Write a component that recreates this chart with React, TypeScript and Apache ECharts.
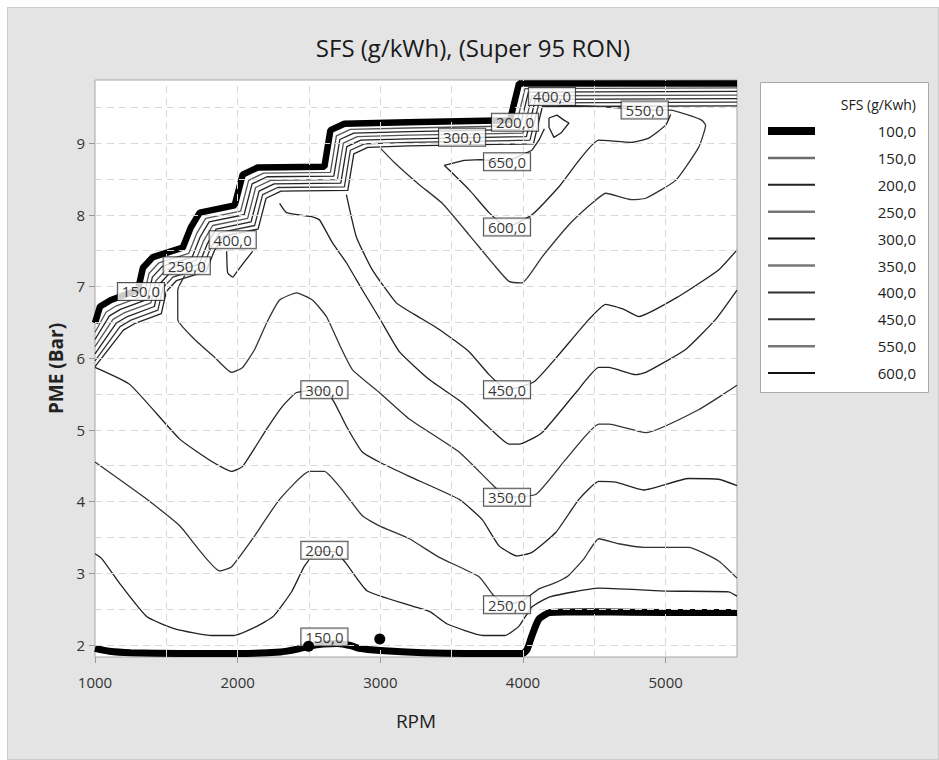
import React, { useEffect, useRef } from "react";
import * as echarts from "echarts";

type P = [number, number];

const xTickValues = [1000, 2000, 3000, 4000, 5000];
const yTickValues = [2, 3, 4, 5, 6, 7, 8, 9];
const xGridValues = [1500, 2000, 2500, 3000, 3500, 4000, 4500, 5000];
const yGridValues = [2, 2.5, 3, 3.5, 4, 4.5, 5, 5.5, 6, 6.5, 7, 7.5, 8, 8.5, 9, 9.5];

const legendLevels = ["100,0", "150,0", "200,0", "250,0", "300,0", "350,0", "400,0", "450,0", "550,0", "600,0"];

// contour 100 (thick)
const sfs100Bottom: P[] = [[1000, 1.95], [1100, 1.91], [1250, 1.89], [1600, 1.88], [2000, 1.88], [2300, 1.9], [2420, 1.94], [2500, 1.98], [2600, 2.01], [2700, 2.02], [2790, 1.99], [2850, 1.95], [3000, 1.92], [3300, 1.89], [3600, 1.88], [4000, 1.88], [4030, 1.94], [4063, 2.13], [4112, 2.36], [4189, 2.45], [4500, 2.46], [5000, 2.45], [5500, 2.45]];
const sfs100Top: P[] = [[1000, 6.49], [1035, 6.72], [1112, 6.81], [1301, 6.95], [1336, 7.26], [1406, 7.41], [1615, 7.54], [1671, 7.82], [1734, 8.03], [1979, 8.13], [2035, 8.56], [2140, 8.66], [2608, 8.67], [2650, 9.18], [2748, 9.27], [3189, 9.29], [3909, 9.32], [3972, 9.83], [5500, 9.83]];

// bundle of contours under the upper limit (150 ... 450)
const bundle150: P[] = [[1000, 6.36], [1077, 6.64], [1150, 6.73], [1343, 6.87], [1378, 7.18], [1448, 7.33], [1657, 7.46], [1713, 7.74], [1776, 7.95], [2021, 8.05], [2077, 8.48], [2182, 8.58], [2650, 8.59], [2692, 9.1], [2790, 9.19], [3200, 9.21], [3951, 9.24], [4014, 9.76], [5500, 9.77]];
const bundle200: P[] = [[1000, 6.26], [1101, 6.59], [1178, 6.68], [1367, 6.82], [1402, 7.13], [1472, 7.28], [1681, 7.41], [1737, 7.69], [1800, 7.9], [2045, 8.0], [2101, 8.43], [2206, 8.53], [2674, 8.54], [2716, 9.05], [2814, 9.14], [3200, 9.16], [3975, 9.19], [4038, 9.71], [5500, 9.72]];
const bundle250: P[] = [[1000, 6.16], [1126, 6.54], [1203, 6.63], [1392, 6.77], [1427, 7.08], [1497, 7.23], [1706, 7.36], [1762, 7.64], [1825, 7.85], [2070, 7.95], [2126, 8.38], [2231, 8.48], [2699, 8.49], [2741, 9.0], [2839, 9.09], [3200, 9.11], [4000, 9.14], [4063, 9.66], [5500, 9.67]];
const bundle300: P[] = [[1000, 6.06], [1150, 6.49], [1227, 6.58], [1416, 6.72], [1451, 7.03], [1521, 7.18], [1730, 7.31], [1786, 7.59], [1849, 7.8], [2094, 7.9], [2150, 8.33], [2255, 8.43], [2723, 8.44], [2765, 8.95], [2863, 9.04], [3200, 9.06], [4024, 9.09], [4087, 9.61], [5500, 9.62]];
const bundle400: P[] = [[1000, 5.96], [1175, 6.44], [1252, 6.53], [1441, 6.67], [1476, 6.98], [1546, 7.13], [1755, 7.26], [1811, 7.54], [1874, 7.75], [2119, 7.85], [2175, 8.28], [2280, 8.38], [2748, 8.39], [2790, 8.9], [2888, 8.99], [3200, 9.01], [4049, 9.04], [4112, 9.56], [5500, 9.57]];
const bundle450: P[] = [[1000, 5.88], [1199, 6.39], [1276, 6.48], [1465, 6.62], [1500, 6.93], [1570, 7.08], [1779, 7.21], [1835, 7.49], [1898, 7.7], [2143, 7.8], [2199, 8.23], [2304, 8.33], [2772, 8.34], [2814, 8.85], [2912, 8.94], [3200, 8.96], [4073, 8.99], [4136, 9.51], [5500, 9.52]];

const sfs200: P[] = [[1000, 3.27], [1049, 3.2], [1175, 2.85], [1364, 2.39], [1566, 2.22], [1818, 2.13], [1972, 2.13], [2126, 2.25], [2252, 2.4], [2378, 2.74], [2469, 3.1], [2560, 3.3], [2680, 3.3], [2755, 3.15], [2909, 2.75], [3224, 2.54], [3350, 2.46], [3469, 2.29], [3720, 2.13], [3874, 2.13], [3972, 2.26], [4063, 2.53], [4189, 2.67], [4531, 2.79], [5000, 2.75], [5441, 2.74], [5500, 2.68]];
const sfs250: P[] = [[1000, 4.55], [1364, 4.03], [1594, 3.66], [1874, 3.03], [1958, 3.09], [2105, 3.48], [2294, 4.03], [2503, 4.42], [2608, 4.42], [2713, 4.21], [2874, 3.8], [2993, 3.66], [3203, 3.48], [3413, 3.22], [3692, 2.95], [3797, 2.68], [3888, 2.56], [4000, 2.62], [4112, 2.78], [4220, 2.86], [4315, 2.96], [4427, 3.2], [4531, 3.48], [4671, 3.41], [4846, 3.36], [5161, 3.36], [5371, 3.17], [5500, 2.93]];
const sfs300: P[] = [[1000, 5.87], [1245, 5.63], [1594, 4.87], [1825, 4.55], [1958, 4.42], [2035, 4.49], [2203, 5.01], [2315, 5.33], [2413, 5.52], [2608, 5.56], [2678, 5.38], [2762, 5.05], [2874, 4.69], [2993, 4.55], [3203, 4.35], [3552, 4.03], [3713, 3.75], [3832, 3.38], [3958, 3.24], [4063, 3.29], [4231, 3.57], [4392, 4.03], [4531, 4.28], [4650, 4.27], [4846, 4.16], [5161, 4.32], [5371, 4.31], [5500, 4.22]];
const sfs350: P[] = [[1629, 7.15], [1580, 6.95], [1580, 6.54], [1699, 6.26], [1839, 6.01], [1958, 5.8], [2035, 5.87], [2119, 6.12], [2203, 6.49], [2294, 6.81], [2413, 6.91], [2524, 6.81], [2622, 6.58], [2713, 6.19], [2804, 5.84], [2993, 5.52], [3203, 5.15], [3552, 4.69], [3783, 4.24], [3888, 4.06], [4091, 4.1], [4301, 4.59], [4531, 5.08], [4601, 5.08], [4860, 4.96], [5231, 5.28], [5500, 5.62]];
const sfs400: P[] = [[2294, 8.16], [2343, 8.03], [2524, 7.97], [2573, 7.93], [2664, 7.61], [2762, 7.33], [2874, 6.95], [2993, 6.56], [3133, 6.09], [3343, 5.7], [3573, 5.38], [3762, 5.03], [3902, 4.8], [3972, 4.8], [4133, 4.96], [4371, 5.52], [4531, 5.87], [4601, 5.87], [4790, 5.77], [4860, 5.8], [5140, 6.12], [5350, 6.54], [5500, 6.95]];
const sfs450: P[] = [[2762, 8.28], [2832, 7.69], [2944, 7.23], [3112, 6.77], [3238, 6.61], [3413, 6.4], [3622, 6.09], [3762, 5.77], [3888, 5.56], [4077, 5.67], [4252, 6.05], [4462, 6.54], [4580, 6.75], [4706, 6.68], [4811, 6.58], [5091, 6.86], [5371, 7.23], [5500, 7.51]];
const sfs550: P[] = [[3000, 8.93], [3098, 8.73], [3273, 8.42], [3434, 8.16], [3622, 7.72], [3797, 7.3], [3902, 7.07], [3993, 7.05], [4133, 7.41], [4322, 7.86], [4483, 8.16], [4580, 8.3], [4762, 8.21], [4860, 8.23], [5070, 8.48], [5231, 8.94], [5280, 9.25], [5252, 9.32], [5161, 9.39], [5035, 9.46], [4853, 9.46], [4671, 9.49], [4450, 9.52], [4250, 9.53]];
const sfs600: P[] = [[3448, 8.69], [3622, 8.35], [3762, 8.03], [3888, 7.83], [4063, 8.0], [4252, 8.39], [4531, 9.04], [4762, 9.01], [4881, 9.07], [5000, 9.25], [5035, 9.4]];
const sfs650: P[] = [[3448, 8.69], [3587, 8.76], [3700, 8.77], [3888, 8.74], [4063, 8.9], [4112, 9.04], [4150, 9.2]];
const loopRight: P[] = [[4182, 9.35], [4238, 9.39], [4287, 9.32], [4322, 9.28], [4266, 9.14], [4217, 9.08], [4182, 9.22], [4182, 9.35]];
const loopLeft: P[] = [[1923, 7.49], [1930, 7.19], [1965, 7.13], [2000, 7.22], [2105, 7.49]];

// contour labels
const labelNames = ["150,0", "200,0", "250,0", "300,0", "350,0", "450,0", "600,0", "650,0", "300,0", "200,0", "400,0", "550,0", "400,0", "250,0", "150,0"];
const labelX = [2608, 2608, 3888, 2608, 3888, 3888, 3888, 3888, 3573, 3944, 4203, 4853, 1965, 1643, 1322];
const labelY = [2.11, 3.32, 2.56, 5.56, 4.06, 5.56, 7.83, 8.74, 9.08, 9.29, 9.65, 9.46, 7.65, 7.29, 6.93];

// data points (dots)
const dotX = [2497, 2996];
const dotY = [1.98, 2.08];

const FONT = "'Open Sans', 'Noto Sans', sans-serif";

export default function App() {
  const ref = useRef<HTMLDivElement>(null);

  useEffect(() => {
    if (!ref.current) return;
    const chart = echarts.init(ref.current, undefined, { renderer: "svg" });

    const thin = (data: P[], color: string, width = 1.3, smooth: number | boolean = 0.15) => ({
      type: "line",
      data,
      showSymbol: false,
      symbol: "none",
      smooth,
      silent: true,
      z: 3,
      lineStyle: { color, width },
    });

    const series: any[] = [
      {
        type: "line",
        data: [],
        silent: true,
        z: 1,
        markLine: {
          silent: true,
          symbol: ["none", "none"],
          label: { show: false },
          lineStyle: { type: [7, 5], color: "#d9d9d9", width: 1 },
          data: [
            ...xGridValues.map((v) => ({ xAxis: v })),
            ...yGridValues.map((v) => ({ yAxis: v })),
          ],
        },
      },
      thin(sfs100Bottom, "#000", 7, 0.2),
      thin(sfs100Top, "#000", 6.5, false),
      thin(bundle150, "#555", 1.3, false),
      thin(bundle200, "#222", 1.3, false),
      thin(bundle250, "#555", 1.3, false),
      thin(bundle300, "#222", 1.3, false),
      thin(bundle400, "#333", 1.3, false),
      thin(bundle450, "#222", 1.3, false),
      thin(sfs200, "#222"),
      thin(sfs250, "#333"),
      thin(sfs300, "#222"),
      thin(sfs350, "#333"),
      thin(sfs400, "#222"),
      thin(sfs450, "#222"),
      thin(sfs550, "#333"),
      thin(sfs600, "#222"),
      thin(sfs650, "#222", 1.3, false),
      thin(loopRight, "#222", 1.3, false),
      thin(loopLeft, "#222"),
      {
        type: "scatter",
        data: labelNames.map((n, i) => ({ name: n, value: [labelX[i], labelY[i]] })),
        symbolSize: 0,
        silent: true,
        z: 10,
        label: {
          show: true,
          position: "inside",
          formatter: (p: any) => p.name,
          backgroundColor: "#fff",
          borderColor: "#222",
          borderWidth: 1,
          padding: [1, 4],
          fontSize: 15,
          fontFamily: FONT,
          color: "#000",
        },
      },
      {
        type: "scatter",
        data: dotX.map((x, i) => [x, dotY[i]]),
        symbolSize: 11,
        itemStyle: { color: "#000", opacity: 1 },
        silent: true,
        z: 11,
      },
    ];

    // legend built from the legend levels
    const legendLeft = 752;
    const legendTop = 74;
    const rowTop = 123;
    const rowStep = 26.9;
    const legendStyles = [
      { color: "#000", width: 8 },
      { color: "#6d6d6d", width: 2.5 },
      { color: "#222", width: 2 },
      { color: "#777", width: 2.5 },
      { color: "#111", width: 2 },
      { color: "#777", width: 2.5 },
      { color: "#333", width: 2 },
      { color: "#333", width: 2 },
      { color: "#777", width: 2.5 },
      { color: "#111", width: 2 },
    ];
    const graphic: any[] = [
      {
        type: "rect",
        left: legendLeft,
        top: legendTop,
        shape: { width: 168, height: 310 },
        style: { fill: "#fff", stroke: "#a8a8a8", lineWidth: 1 },
      },
      {
        type: "text",
        x: 908,
        y: 96,
        style: { text: "SFS (g/Kwh)", fill: "#222", font: `14px ${FONT}`, textAlign: "right", textVerticalAlign: "middle" },
      },
    ];
    legendLevels.forEach((lv, i) => {
      const y = rowTop + i * rowStep;
      graphic.push({
        type: "line",
        shape: { x1: 760, y1: y, x2: 807, y2: y },
        style: { stroke: legendStyles[i].color, lineWidth: legendStyles[i].width },
      });
      graphic.push({
        type: "text",
        x: 908,
        y,
        style: { text: lv, fill: "#222", font: `15px ${FONT}`, textAlign: "right", textVerticalAlign: "middle" },
      });
    });

    chart.setOption({
      animation: false,
      backgroundColor: "transparent",
      title: {
        text: "SFS (g/kWh), (Super 95 RON)",
        left: "center",
        top: 22,
        textStyle: { fontSize: 24, fontWeight: "normal", color: "#1a1a1a", fontFamily: FONT },
      },
      grid: {
        left: 87,
        top: 72,
        right: 201,
        bottom: 102,
        show: true,
        backgroundColor: "#fff",
        borderColor: "#a6a6a6",
        borderWidth: 1,
      },
      xAxis: {
        type: "value",
        min: 1000,
        max: 5500,
        axisLine: { show: false },
        splitLine: { show: false },
        axisTick: { show: true, customValues: xTickValues, length: 6, lineStyle: { color: "#999" } },
        axisLabel: {
          customValues: xTickValues,
          formatter: (v: number) => String(v),
          fontSize: 15,
          color: "#333",
          margin: 17,
          fontFamily: FONT,
        },
        name: "RPM",
        nameLocation: "middle",
        nameGap: 54,
        nameTextStyle: { fontSize: 19, color: "#222", fontFamily: FONT },
      },
      yAxis: {
        type: "value",
        min: 1.83,
        max: 9.88,
        axisLine: { show: false },
        splitLine: { show: false },
        axisTick: { show: true, customValues: yTickValues, length: 6, lineStyle: { color: "#999" } },
        axisLabel: {
          customValues: yTickValues,
          formatter: (v: number) => String(v),
          fontSize: 15,
          color: "#333",
          margin: 10,
          fontFamily: FONT,
        },
        name: "PME (Bar)",
        nameLocation: "middle",
        nameGap: 28,
        nameRotate: 90,
        nameTextStyle: { fontSize: 19, color: "#222", fontWeight: "bold", fontFamily: FONT },
      },
      graphic,
      series,
    });

    return () => chart.dispose();
  }, []);

  return (
    <div
      style={{
        position: "absolute",
        left: 7,
        top: 7,
        width: 932,
        height: 753,
        boxSizing: "border-box",
        background: "#e4e4e4",
        border: "1px solid #cdcdcd",
      }}
    >
      <div ref={ref} style={{ position: "absolute", left: 0, top: 0, width: 930, height: 751 }} />
    </div>
  );
}
